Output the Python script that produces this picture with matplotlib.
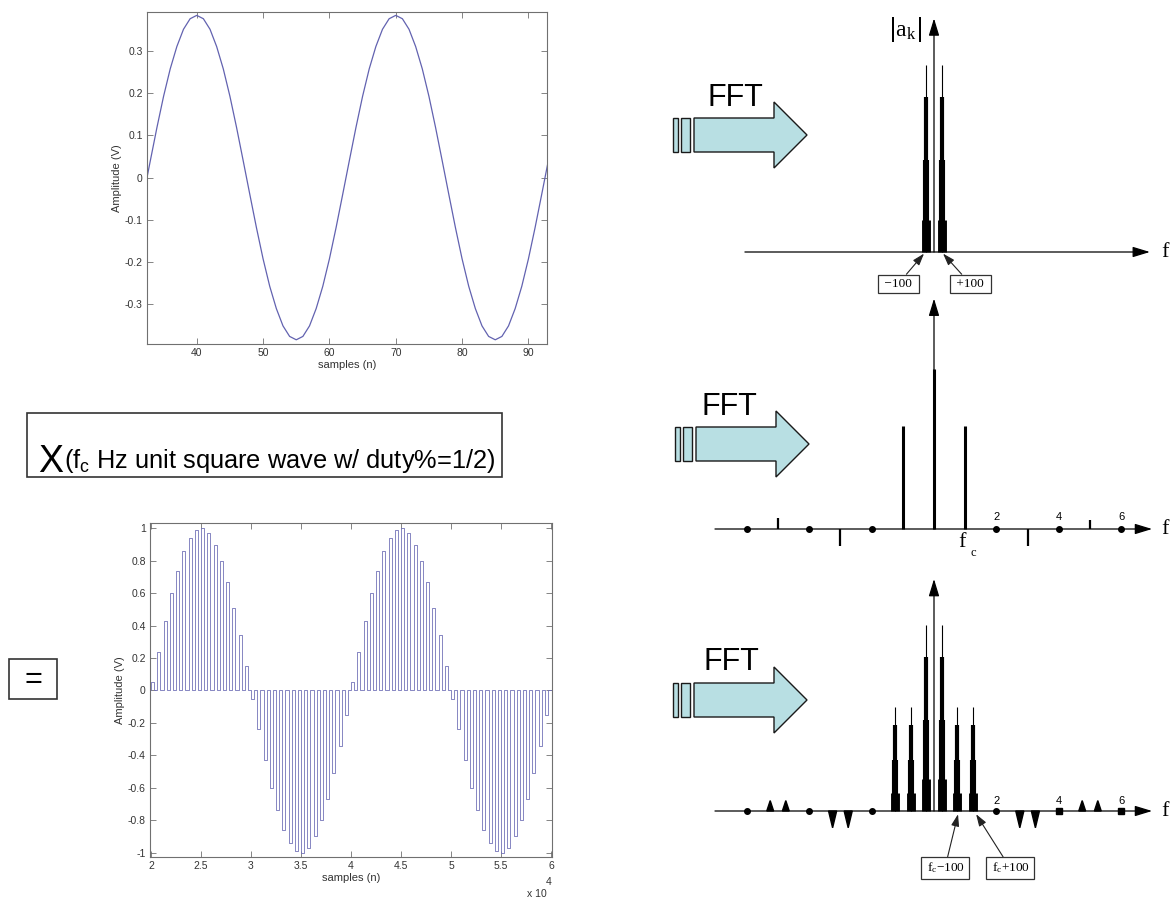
import numpy as np
import matplotlib
matplotlib.use('Agg')
import matplotlib.pyplot as plt
from matplotlib.patches import Polygon, Rectangle

plt.rcParams['font.family'] = ['Liberation Sans', 'DejaVu Sans']
plt.rcParams['axes.unicode_minus'] = False

W, H = 1172, 901

# ---------------- data ----------------
# top-left: sampled sine, samples n = 32..93
n_top = np.arange(32, 94)
amp_top = [-0.040,
           0.040, 0.119, 0.193, 0.258, 0.311, 0.352, 0.377, 0.385, 0.377, 0.352,
           0.311, 0.258, 0.193, 0.119, 0.040, -0.040, -0.119, -0.193, -0.258, -0.311,
           -0.352, -0.377, -0.385, -0.377, -0.352, -0.311, -0.258, -0.193, -0.119, -0.040,
           0.040, 0.119, 0.193, 0.258, 0.311, 0.352, 0.377, 0.385, 0.377, 0.352,
           0.311, 0.258, 0.193, 0.119, 0.040, -0.040, -0.119, -0.193, -0.258, -0.311,
           -0.352, -0.377, -0.385, -0.377, -0.352, -0.311, -0.258, -0.193, -0.119, -0.040,
           0.040]
top_xticks = [40, 50, 60, 70, 80, 90]
top_yticks = [-0.3, -0.2, -0.1, 0, 0.1, 0.2, 0.3]
top_ylabels = ['-0.3', '-0.2', '-0.1', '0', '0.1', '0.2', '0.3']

# bottom-left: sine x square wave, one pulse height per square-wave period
pulse_start = 20000
pulse_period = 625
pulse_heights = [0.05, 0.24, 0.43, 0.60, 0.74, 0.86, 0.94, 0.99, 1.00, 0.97, 0.90, 0.80, 0.67, 0.51, 0.34, 0.15,
                 -0.05, -0.24, -0.43, -0.60, -0.74, -0.86, -0.94, -0.99, -1.00, -0.97, -0.90, -0.80, -0.67, -0.51, -0.34, -0.15,
                 0.05, 0.24, 0.43, 0.60, 0.74, 0.86, 0.94, 0.99, 1.00, 0.97, 0.90, 0.80, 0.67, 0.51, 0.34, 0.15,
                 -0.05, -0.24, -0.43, -0.60, -0.74, -0.86, -0.94, -0.99, -1.00, -0.97, -0.90, -0.80, -0.67, -0.51, -0.34, -0.15]
bot_xticks = [20000, 25000, 30000, 35000, 40000, 45000, 50000, 55000, 60000]
bot_xlabels = ['2', '2.5', '3', '3.5', '4', '4.5', '5', '5.5', '6']
bot_yticks = [-1, -0.8, -0.6, -0.4, -0.2, 0, 0.2, 0.4, 0.6, 0.8, 1]
bot_ylabels = ['-1', '-0.8', '-0.6', '-0.4', '-0.2', '0', '0.2', '0.4', '0.6', '0.8', '1']

# spectra (x in multiples of fc, y relative height)
step_fracs = [1.0, 0.83, 0.49, 0.17]
step_widths = [0.8, 3.0, 4.4, 6.4]

spec1_pos = [-0.26, 0.26]
spec1_top = [1.17, 1.17]

spec2_k = [-5, -3, -1, 0, 1, 3, 5]
spec2_h = [0.07, -0.105, 0.644, 1.0, 0.644, -0.105, 0.055]
spec2_dots = [-6, -4, -2, 2, 4, 6]

spec3_pos = [-1.25, -0.75, -0.25, 0.25, 0.75, 1.25]
spec3_top = [0.65, 0.65, 1.16, 1.16, 0.65, 0.65]
spec3_tri_pos = [-5.25, -4.75, -3.25, -2.75, 2.75, 3.25, 4.75, 5.25]
spec3_tri_h = [0.065, 0.065, -0.105, -0.105, -0.105, -0.105, 0.065, 0.065]
spec3_dots = [-6, -4, -2, 2]
spec3_squares = [4, 6]

harm_labels = ['2', '4', '6']
harm_label_k = [2, 4, 6]

# ---------------- figure ----------------
fig = plt.figure(figsize=(W / 100, H / 100), dpi=100)


def px_axes(x0, y0, x1, y1):
    return fig.add_axes([x0 / W, 1 - y1 / H, (x1 - x0) / W, (y1 - y0) / H])


overlay = px_axes(0, 0, W, H)
overlay.set_xlim(0, W)
overlay.set_ylim(H, 0)
overlay.axis('off')


def matlab_style(ax):
    for s in ax.spines.values():
        s.set_color('#707070')
        s.set_linewidth(0.8)
    ax.tick_params(direction='in', length=4, width=0.6, color='#707070',
                   labelsize=7.5, labelcolor='#333333', top=True, right=True, pad=3)


# top-left sine
ax1 = px_axes(147, 12, 547, 344)
ax1.plot(n_top, amp_top, color='#6262b0', lw=0.9)
ax1.set_xlim(32.5, 92.8)
ax1.set_ylim(-0.395, 0.393)
ax1.set_xticks(top_xticks)
ax1.set_yticks(top_yticks)
ax1.set_yticklabels(top_ylabels)
ax1.set_xlabel('samples (n)', fontsize=8, color='#333333', labelpad=1)
ax1.set_ylabel('Amplitude (V)', fontsize=8, color='#333333', labelpad=2)
matlab_style(ax1)

# bottom-left sine x square
px, py = [pulse_start], [0]
x = pulse_start
for h in pulse_heights:
    px += [x, x, x + pulse_period / 2, x + pulse_period / 2]
    py += [0, h, h, 0]
    x += pulse_period
px.append(x)
py.append(0)

ax2 = px_axes(150, 523, 552, 857)
ax2.plot(px, py, color='#7272b8', lw=0.6)
ax2.set_xlim(19900, 60100)
ax2.set_ylim(-1.027, 1.033)
ax2.set_xticks(bot_xticks)
ax2.set_xticklabels(bot_xlabels)
ax2.set_yticks(bot_yticks)
ax2.set_yticklabels(bot_ylabels)
ax2.set_xlabel('samples (n)', fontsize=8, color='#333333', labelpad=1)
ax2.set_ylabel('Amplitude (V)', fontsize=8, color='#333333', labelpad=2)
matlab_style(ax2)
overlay.text(537, 894, 'x 10', fontsize=7.5, color='#333333', ha='center', va='center')
overlay.text(549, 882, '4', fontsize=7.5, color='#333333', ha='center', va='center')

# multiplier box and "=" box
overlay.add_patch(Rectangle((27, 413), 475, 64, fill=False, ec='#333333', lw=1.2))
overlay.text(38, 472, 'X', fontsize=27, va='baseline', ha='left')
overlay.text(64, 468, r'(f$_\mathregular{c}$ Hz unit square wave w/ duty%=1/2)', fontsize=18.3,
             va='baseline', ha='left')
overlay.add_patch(Rectangle((9, 659), 48, 40, fill=False, ec='#333333', lw=1.2))
overlay.text(33, 680, '=', fontsize=22, ha='center', va='center')


# FFT block arrows
def fft_arrow(x0, yc, text_x, text_base):
    fc, ec = '#b8dfe3', '#1a1a1a'
    overlay.add_patch(Rectangle((x0, yc - 17), 4.6, 34, fc=fc, ec=ec, lw=1))
    overlay.add_patch(Rectangle((x0 + 8.3, yc - 17), 9, 34, fc=fc, ec=ec, lw=1))
    bx = x0 + 21
    verts = [(bx, yc - 17), (bx + 80, yc - 17), (bx + 80, yc - 33), (bx + 113, yc),
             (bx + 80, yc + 33), (bx + 80, yc + 17), (bx, yc + 17)]
    overlay.add_patch(Polygon(verts, closed=True, fc=fc, ec=ec, lw=1))
    overlay.text(text_x, text_base, 'FFT', fontsize=22, ha='left', va='baseline')


fft_arrow(673, 135, 707, 106)
fft_arrow(675, 444, 702, 415)
fft_arrow(673, 700, 704, 670)

# spectra
K0, PXK, PXU = 934, 31.2, 160
AX_STYLE = '-|>,head_length=1.05,head_width=0.32'
serif = ['Liberation Serif', 'DejaVu Serif']


def spec_axes(y_top, y_base, y_bot):
    ax = px_axes(700, y_top, 1172, y_bot)
    ax.set_xlim((700 - K0) / PXK, (1172 - K0) / PXK)
    ax.set_ylim((y_base - y_bot) / PXU, (y_base - y_top) / PXU)
    ax.axis('off')
    return ax


def spec_frame(ax, x_start, x_end, v_top):
    arrow = dict(arrowstyle=AX_STYLE, mutation_scale=10, lw=0.9, color='k', shrinkA=0, shrinkB=0)
    ax.annotate('', xy=(x_end, 0), xytext=(x_start, 0), arrowprops=arrow)
    ax.annotate('', xy=(0, v_top), xytext=(0, 0), arrowprops=arrow)
    ax.text(7.42, 0, 'f', family=serif, fontsize=16, ha='center', va='center')


def stacked_spikes(ax, pos, tops):
    for frac, lw in zip(step_fracs, step_widths):
        ax.vlines(pos, 0, np.array(tops) * frac, colors='k', lw=lw, capstyle='butt')


box_kw = dict(boxstyle='square,pad=0.25', fc='white', ec='#333333', lw=0.9)
lbl_arrow = dict(arrowstyle='-|>,head_length=0.9,head_width=0.3', mutation_scale=8,
                 lw=0.8, color='#222222', shrinkA=0, shrinkB=0)

# spectrum 1
s1 = spec_axes(0, 252, 300)
spec_frame(s1, -6.06, 6.92, 1.46)
stacked_spikes(s1, spec1_pos, spec1_top)
s1.text(-0.93, 1.39, r'$|\mathregular{a_k}|$', family=serif, fontsize=17, ha='center', va='center')
s1.annotate(' \u2212100 ', xy=(-0.32, -0.01), xytext=(-1.15, -0.2), ha='center', va='center',
            fontsize=9.5, family=serif, bbox=box_kw, arrowprops=lbl_arrow)
s1.annotate(' +100 ', xy=(0.29, -0.01), xytext=(1.17, -0.2), ha='center', va='center',
            fontsize=9.5, family=serif, bbox=box_kw, arrowprops=lbl_arrow)

# spectrum 2
s2 = spec_axes(290, 529, 570)
spec_frame(s2, -7.02, 6.99, 1.44)
widths2 = [1.6 if abs(k) > 1 else 2.2 for k in spec2_k]
s2.vlines(spec2_k, 0, spec2_h, colors='k', lw=widths2, capstyle='butt')
s2.plot(spec2_dots, np.zeros(len(spec2_dots)), 'o', ms=4, color='k')
for k, t in zip(harm_label_k, harm_labels):
    s2.text(k, 0.075, t, fontsize=8, ha='center', va='center')
s2.text(0.9, -0.085, 'f', family=serif, fontsize=16, ha='center', va='center')
s2.text(1.25, -0.15, 'c', family=serif, fontsize=9, ha='center', va='center')

# spectrum 3
s3 = spec_axes(560, 811, 901)
spec_frame(s3, -7.02, 6.99, 1.45)
stacked_spikes(s3, spec3_pos, spec3_top)
for xt, ht in zip(spec3_tri_pos, spec3_tri_h):
    hw = 0.13 if ht < 0 else 0.11
    s3.add_patch(Polygon([(xt - hw, 0), (xt + hw, 0), (xt, ht)], closed=True, color='k'))
s3.plot(spec3_dots, np.zeros(len(spec3_dots)), 'o', ms=4, color='k')
s3.plot(spec3_squares, np.zeros(len(spec3_squares)), 's', ms=4, color='k')
for k, t in zip(harm_label_k, harm_labels):
    s3.text(k, 0.065, t, fontsize=8, ha='center', va='center')
s3.annotate(r' $\mathregular{f_c}$' + '\u2212100 ', xy=(0.77, -0.02), xytext=(0.35, -0.356),
            ha='center', va='center', fontsize=9.5, family=serif, bbox=box_kw, arrowprops=lbl_arrow)
s3.annotate(r' $\mathregular{f_c}$' + '+100 ', xy=(1.35, -0.02), xytext=(2.44, -0.356),
            ha='center', va='center', fontsize=9.5, family=serif, bbox=box_kw, arrowprops=lbl_arrow)

fig.savefig('out.png', dpi=100)
